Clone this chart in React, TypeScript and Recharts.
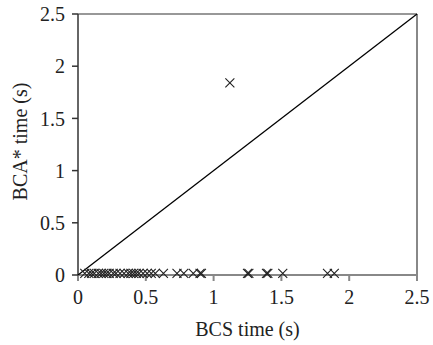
import React from "react";
import {
  ScatterChart,
  Scatter,
  XAxis,
  YAxis,
  ReferenceLine,
} from "recharts";

document.body.style.margin = "0";

// BCS time vs BCA* time, seconds
const bcsTimes = [
  0.05, 0.08, 0.1, 0.12, 0.15, 0.17, 0.19, 0.21, 0.23, 0.26, 0.28, 0.31, 0.34,
  0.37, 0.39, 0.41, 0.43, 0.45, 0.48, 0.51, 0.54, 0.57, 0.63, 0.73, 0.78, 0.85,
  0.9, 0.91, 1.12, 1.25, 1.26, 1.39, 1.4, 1.51, 1.84, 1.89,
];
const bcaTimes = bcsTimes.map((x) => (x === 1.12 ? 1.84 : 0.015));

const ticks = [0, 0.5, 1, 1.5, 2, 2.5];
const diagX = [0, 2.5];
const diagY = [0, 2.5];

const points = bcsTimes.map((x, i) => ({ x, y: bcaTimes[i] }));
const diagonal = diagX.map((x, i) => ({ x, y: diagY[i] }));

const font = "'Liberation Serif', 'Times New Roman', Times, serif";
const fs = 20;
const fmt = (v: number) => String(v);

const XMark = (props: any) => {
  const { cx, cy } = props;
  const r = 4.5;
  return (
    <path
      d={`M${cx - r},${cy - r}L${cx + r},${cy + r}M${cx - r},${cy + r}L${cx + r},${cy - r}`}
      stroke="#222"
      strokeWidth={1.1}
      fill="none"
    />
  );
};

const YTitle = (props: any) => {
  const vb = props.viewBox;
  const cy = vb.y + vb.height / 2 - 3;
  return (
    <text
      x={20}
      y={cy}
      transform={`rotate(-90 20 ${cy})`}
      textAnchor="middle"
      dominantBaseline="central"
      style={{ fontFamily: font, fontSize: fs }}
      fill="#222"
    >
      BCA* time (s)
    </text>
  );
};

const tickStyle = { fill: "#222", style: { fontFamily: font, fontSize: fs } };

export default function App() {
  return (
    <div style={{ fontFamily: font }}>
      <ScatterChart
        width={433}
        height={345}
        margin={{ top: 14, right: 16, bottom: 0, left: 0 }}
      >
        <XAxis
          type="number"
          dataKey="x"
          domain={[0, 2.5]}
          ticks={ticks}
          tickFormatter={fmt}
          height={70}
          stroke="#888"
          strokeWidth={2}
          tickSize={6}
          tickMargin={9}
          tick={tickStyle}
          label={{
            value: "BCS time (s)",
            position: "insideBottom",
            offset: 9,
            fill: "#222",
            style: { fontFamily: font, fontSize: fs },
          }}
        />
        <YAxis
          type="number"
          dataKey="y"
          domain={[0, 2.5]}
          ticks={ticks}
          tickFormatter={fmt}
          width={78}
          stroke="#333"
          strokeWidth={1.5}
          tickSize={6}
          tickMargin={7}
          tick={tickStyle}
          label={{ content: YTitle }}
        />
        <ReferenceLine y={2.5} stroke="#333" strokeWidth={1.2} />
        <ReferenceLine x={2.5} stroke="#888" strokeWidth={2} />
        <Scatter
          data={diagonal}
          line={{ stroke: "#000", strokeWidth: 1.3 }}
          shape={() => null}
          isAnimationActive={false}
        />
        <Scatter data={points} shape={<XMark />} isAnimationActive={false} />
      </ScatterChart>
    </div>
  );
}
